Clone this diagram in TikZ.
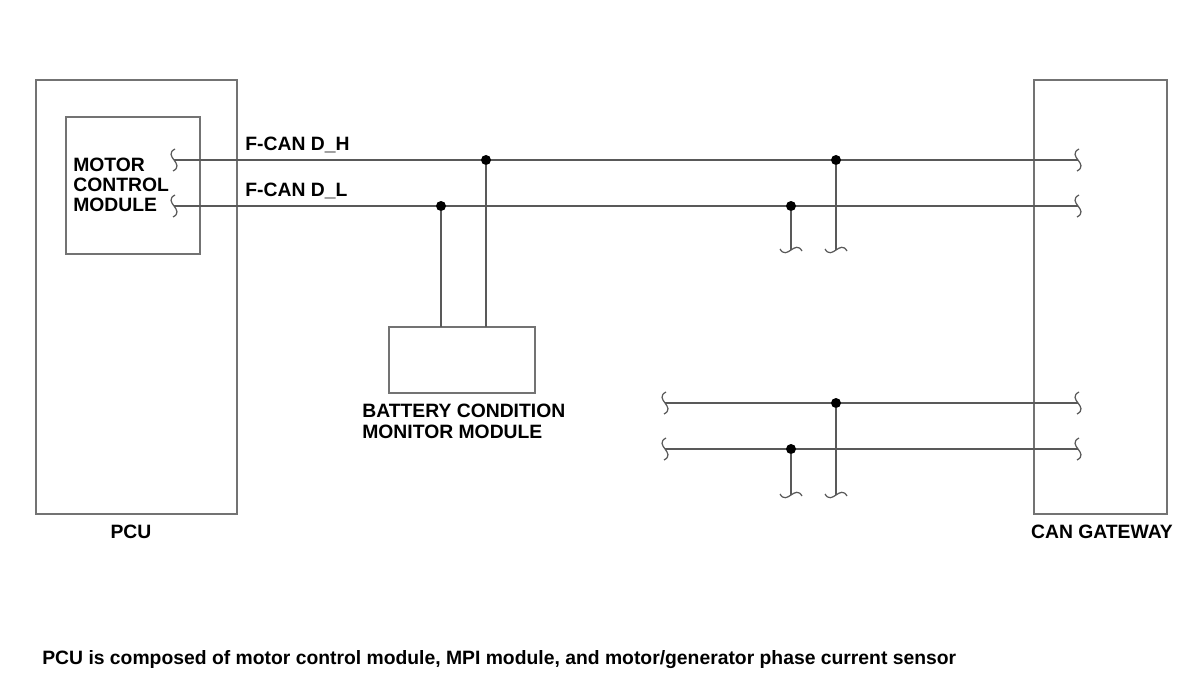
\documentclass[tikz,border=0pt]{standalone}
\usepackage{fontspec}
\setmainfont{Liberation Sans}
\begin{document}
\begin{tikzpicture}[x=0.02cm,y=-0.02cm,
  wire/.style={draw=black!65,line width=0.9pt},
  boxs/.style={draw=black!55,line width=0.9pt,rectangle,inner sep=0pt},
  dot/.style={circle,fill=black,inner sep=0pt,minimum size=0.2cm},
  lbl/.style={inner sep=0pt,font=\fontsize{11}{11.4}\selectfont\bfseries,align=left},
  vsq/.pic={\draw[wire,line width=0.7pt] (1,-11) .. controls (-12,-4) and (12,4) .. (-1,11);},
  hsq/.pic={\draw[wire,line width=0.7pt] (-11,-1) .. controls (-4,11) and (4,-11) .. (11,1);}]
\useasboundingbox (0,0) rectangle (1200,689);
% boxes
\node[boxs,minimum width=4.02cm,minimum height=8.68cm] (pcu) at (136.5,297) {};
\node[boxs,minimum width=2.68cm,minimum height=2.74cm] (mcm) at (133,185.5) {};
\node[boxs,minimum width=2.66cm,minimum height=8.68cm] (gw) at (1100.5,297) {};
\node[boxs,minimum width=2.92cm,minimum height=1.32cm] (bcm) at (462,360) {};
% endpoints
\coordinate (hL) at (174,160); \coordinate (hR) at (1078,160);
\coordinate (lL) at (174,206); \coordinate (lR) at (1078,206);
\coordinate (aL) at (665,403); \coordinate (aR) at (1078,403);
\coordinate (bL) at (665,449); \coordinate (bR) at (1078,449);
\coordinate (b1) at (441,327); \coordinate (b2) at (486,327);
\coordinate (e1) at (791,250); \coordinate (e2) at (836,250);
\coordinate (f1) at (791,495); \coordinate (f2) at (836,495);
% main wires
\draw[wire] (hL) -- (hR);
\draw[wire] (lL) -- (lR);
\draw[wire] (aL) -- (aR);
\draw[wire] (bL) -- (bR);
% junctions
\node[dot] (j1) at (486,160) {};
\node[dot] (j2) at (836,160) {};
\node[dot] (j3) at (441,206) {};
\node[dot] (j4) at (791,206) {};
\node[dot] (j5) at (836,403) {};
\node[dot] (j6) at (791,449) {};
\draw[wire] (j1) -- (b2);
\draw[wire] (j3) -- (b1);
\draw[wire] (j2) -- (e2);
\draw[wire] (j4) -- (e1);
\draw[wire] (j5) -- (f2);
\draw[wire] (j6) -- (f1);
% squiggles
\foreach \p in {hL,hR,lL,lR,aL,aR,bL,bR} \pic at (\p) {vsq};
\foreach \p in {e1,e2,f1,f2} \pic at (\p) {hsq};
% labels
\node[lbl,anchor=base west] (tmcm) at (73,212) {MOTOR\\CONTROL\\MODULE};
\node[lbl,anchor=base west] (th) at (245,151) {F-CAN D\_H};
\node[lbl,anchor=base west] (tl) at (245,197) {F-CAN D\_L};
\node[lbl,anchor=base west] (tb) at (362,438) {BATTERY CONDITION\\MONITOR MODULE};
\node[lbl,anchor=base] (tp) at (131,538) {PCU};
\node[lbl,anchor=base] (tg) at (1102,538) {CAN GATEWAY};
\node[lbl,anchor=base west] (tn) at (42,664) {PCU is composed of motor control module, MPI module, and motor/generator phase current sensor};
\end{tikzpicture}
\end{document}
